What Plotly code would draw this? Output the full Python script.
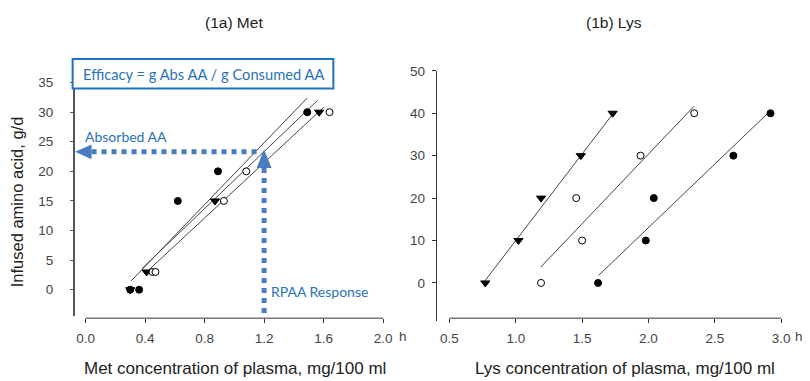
import plotly.graph_objects as go

# ---------------- data ----------------
# (1a) Met
met_filled_x = [0.30, 0.36, 0.62, 0.89, 1.49]
met_filled_y = [0, 0, 15, 20, 30]
met_tri_x = [0.30, 0.41, 0.87, 1.57]
met_tri_y = [0, 3, 15, 30]
met_open_x = [0.45, 0.47, 0.93, 1.08, 1.64]
met_open_y = [3, 3, 15, 20, 30]
met_fit1_x = [0.305, 1.49]
met_fit1_y = [1.45, 32.4]
met_fit2_x = [0.38, 1.56]
met_fit2_y = [3.6, 32.0]
met_fit3_x = [0.41, 1.60]
met_fit3_y = [3.0, 30.8]

# (1b) Lys
lys_tri_x = [0.77, 1.02, 1.19, 1.49, 1.73]
lys_tri_y = [0, 10, 20, 30, 40]
lys_open_x = [1.19, 1.50, 1.455, 1.94, 2.345]
lys_open_y = [0, 10, 20, 30, 40]
lys_filled_x = [1.62, 1.98, 2.04, 2.64, 2.92]
lys_filled_y = [0, 10, 20, 30, 40]
lys_fit_tri_x = [0.76, 1.74]
lys_fit_tri_y = [0.2, 40.2]
lys_fit_open_x = [1.187, 2.342]
lys_fit_open_y = [3.7, 41.6]
lys_fit_filled_x = [1.625, 2.90]
lys_fit_filled_y = [1.8, 40.0]

met_xticks = [0.0, 0.4, 0.8, 1.2, 1.6, 2.0]
met_xticklabels = ["0.0", "0.4", "0.8", "1.2", "1.6", "2.0"]
met_yticks = [0, 5, 10, 15, 20, 25, 30, 35]
lys_xticks = [0.5, 1.0, 1.5, 2.0, 2.5, 3.0]
lys_xticklabels = ["0.5", "1.0", "1.5", "2.0", "2.5", "3.0"]
lys_yticks = [0, 10, 20, 30, 40, 50]

# annotation values (Met panel)
absorbed_aa = 23.3
rpaa_response = 1.2

W, H = 810, 381
def px(x):
    return x / W
def py(y):
    return 1 - y / H

FONT = "Liberation Sans, Arial, sans-serif"
BLUE_TXT = "#2a72b8"
BLUE_ARROW = "#4a7cc0"
LINE_C = "#444444"

fig = go.Figure()

def markers(x, y, symbol, xa, ya, fill="black"):
    fig.add_trace(go.Scatter(
        x=x, y=y, mode="markers", xaxis=xa, yaxis=ya, showlegend=False,
        marker=dict(symbol=symbol, size=7 if symbol != "triangle-down" else 8,
                    color=fill, line=dict(color="black", width=1)),
        cliponaxis=False))

def fitline(x, y, xa, ya):
    fig.add_trace(go.Scatter(
        x=x, y=y, mode="lines", xaxis=xa, yaxis=ya, showlegend=False,
        line=dict(color=LINE_C, width=1)))

# Met panel
fitline(met_fit1_x, met_fit1_y, "x", "y")
fitline(met_fit2_x, met_fit2_y, "x", "y")
fitline(met_fit3_x, met_fit3_y, "x", "y")
markers(met_filled_x, met_filled_y, "circle", "x", "y")
markers(met_tri_x, met_tri_y, "triangle-down", "x", "y")
markers(met_open_x, met_open_y, "circle", "x", "y", fill="white")

# Lys panel
fitline(lys_fit_tri_x, lys_fit_tri_y, "x2", "y2")
fitline(lys_fit_open_x, lys_fit_open_y, "x2", "y2")
fitline(lys_fit_filled_x, lys_fit_filled_y, "x2", "y2")
markers(lys_tri_x, lys_tri_y, "triangle-down", "x2", "y2")
markers(lys_open_x, lys_open_y, "circle", "x2", "y2", fill="white")
markers(lys_filled_x, lys_filled_y, "circle", "x2", "y2")

tickfont = dict(family=FONT, size=13.5, color="#444444")

# left panel geometry: y axis at px 75, x=0 at px 86, x=2 at px 385
met_x_range = [-11 / 149.5, 2.0 + 5 / 149.5]
met_y_range = [(288 - 315) / 6.029, (288 - 73) / 6.029]
# right panel geometry: y axis at px 439, x=0.5 at 451.7, x=3 at 785
lys_x_range = [0.5 - 12.7 / 133.3, 3.0 + 5 / 133.3]
lys_y_range = [(281 - 320) / 4.333, 50.0]

x_axis_pos = py(317)

fig.update_layout(
    width=W, height=H, margin=dict(l=0, r=0, t=0, b=0),
    paper_bgcolor="white", plot_bgcolor="white",
    xaxis=dict(domain=[px(75), px(390)], range=met_x_range, anchor="free", position=x_axis_pos,
               showline=False, showgrid=False, zeroline=False,
               tickvals=met_xticks, ticktext=met_xticklabels, ticks="outside", ticklen=4,
               tickcolor="#333", tickfont=tickfont, ticklabelstandoff=4),
    yaxis=dict(domain=[py(315), py(73)], range=met_y_range, anchor="x",
               showline=True, linecolor="#555", linewidth=1.5, showgrid=False, zeroline=False,
               tickvals=met_yticks, ticks="outside", ticklen=3, tickcolor="#555",
               tickfont=tickfont, ticklabelstandoff=14),
    xaxis2=dict(domain=[px(439), px(790)], range=lys_x_range, anchor="free", position=x_axis_pos,
                showline=False, showgrid=False, zeroline=False,
                tickvals=lys_xticks, ticktext=lys_xticklabels, ticks="outside", ticklen=4,
                tickcolor="#333", tickfont=tickfont, ticklabelstandoff=4),
    yaxis2=dict(domain=[py(320), py(65)], range=lys_y_range, anchor="x2",
                showline=True, linecolor="#333", linewidth=1, showgrid=False, zeroline=False,
                tickvals=lys_yticks, ticks="outside", ticklen=4, tickcolor="#333",
                tickfont=tickfont, ticklabelstandoff=4),
)

shapes = []
# custom x axis lines (offset from y axis)
shapes.append(dict(type="line", xref="x", yref="paper", x0=met_xticks[0], x1=met_xticks[-1],
                   y0=x_axis_pos, y1=x_axis_pos, line=dict(color="#333", width=1)))
shapes.append(dict(type="line", xref="x2", yref="paper", x0=lys_xticks[0], x1=lys_xticks[-1],
                   y0=x_axis_pos, y1=x_axis_pos, line=dict(color="#333", width=1)))

# dotted arrows
xmin = met_x_range[0]
head_len_x = 17 / 149.5
head_half_y = 7.5 / 6.029
shapes.append(dict(type="line", xref="x", yref="y", x0=xmin + head_len_x, x1=rpaa_response - 0.015,
                   y0=absorbed_aa, y1=absorbed_aa, layer="above",
                   line=dict(color=BLUE_ARROW, width=5, dash="5px,5px")))
shapes.append(dict(type="path", xref="x", yref="y", layer="above",
                   path=f"M {xmin + 0.003},{absorbed_aa} L {xmin + head_len_x},{absorbed_aa + head_half_y} "
                        f"L {xmin + head_len_x},{absorbed_aa - head_half_y} Z",
                   fillcolor=BLUE_ARROW, line=dict(width=0)))
tip_y = absorbed_aa + 0.4
head_len_y = 19 / 6.029
head_half_x = 7.5 / 149.5
shapes.append(dict(type="line", xref="x", yref="y", x0=rpaa_response, x1=rpaa_response,
                   y0=tip_y - head_len_y, y1=met_y_range[0], layer="above",
                   line=dict(color=BLUE_ARROW, width=5, dash="5px,5px")))
shapes.append(dict(type="path", xref="x", yref="y", layer="above",
                   path=f"M {rpaa_response},{tip_y} L {rpaa_response - head_half_x},{tip_y - head_len_y} "
                        f"L {rpaa_response + head_half_x},{tip_y - head_len_y} Z",
                   fillcolor=BLUE_ARROW, line=dict(width=0)))
# efficacy box
shapes.append(dict(type="rect", xref="paper", yref="paper", x0=px(73), x1=px(335), y0=py(83), y1=py(53),
                   fillcolor="white", line=dict(color="#1b72c2", width=2), layer="above"))
fig.update_layout(shapes=shapes)

ann = []
def text(x, y, s, size=15, color="#222", xanchor="center", angle=0, family=FONT, xref="paper", yref="paper"):
    ann.append(dict(x=x, y=y, xref=xref, yref=yref, text=s, showarrow=False, xanchor=xanchor,
                    yanchor="middle", textangle=angle, font=dict(family=family, size=size, color=color)))

text(px(235), py(16), "(1a) Met", size=15.5)
text(px(617), py(16), "(1b) Lys", size=15.5)
text(px(236), py(368), "Met concentration of plasma, mg/100 ml", size=17)
text(px(628), py(368), "Lys concentration of plasma, mg/100 ml", size=17)
text(px(17), py(198), "Infused amino acid, g/d", size=16.5, angle=-90)
text(px(399), py(336), "h", size=13.5, color="#444", xanchor="left")
text(px(797), py(336), "h", size=13.5, color="#444", xanchor="left")
text(px(205), py(68), "Efficacy = g Abs AA / g Consumed AA", size=14.7, color=BLUE_TXT, family="Lato, sans-serif")
text(px(83), py(132), "Absorbed AA", size=14, color=BLUE_TXT, xanchor="left", family="Lato, sans-serif")
text(px(270), py(290), "RPAA Response", size=14, color=BLUE_TXT, xanchor="left", family="Lato, sans-serif")
fig.update_layout(annotations=ann)

fig.write_html("out.html")
